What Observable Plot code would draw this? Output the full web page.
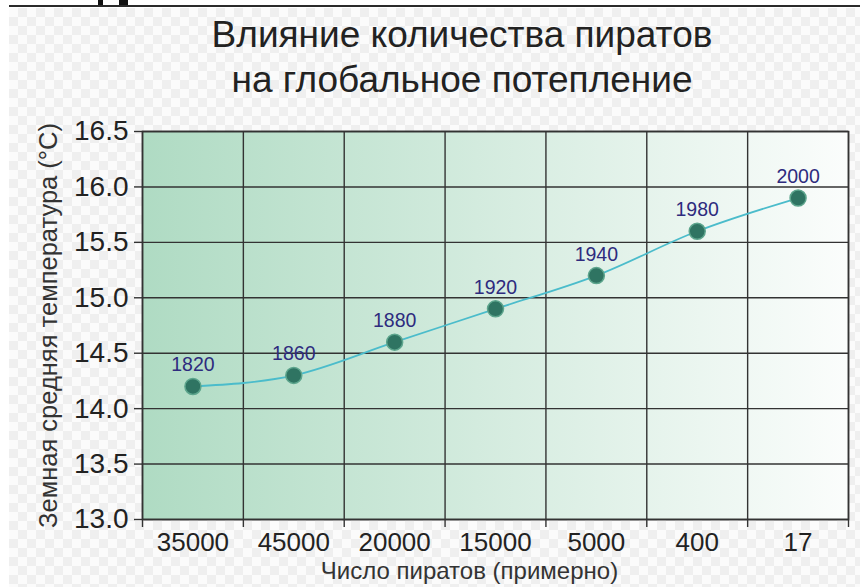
<!DOCTYPE html>
<html>
<head>
<meta charset="utf-8">
<script src="https://cdn.jsdelivr.net/npm/d3@7"></script>
<script src="https://cdn.jsdelivr.net/npm/@observablehq/plot@0.6"></script>
<style>
  html, body { margin: 0; padding: 0; background: #fff; }
  #wrap { position: relative; width: 860px; height: 587px; overflow: hidden; }
  #checker {
    position: absolute; left: 9px; top: 8px; right: 0; bottom: 0;
    background: conic-gradient(#efefef 25%, #fbfbfb 0 50%, #efefef 0 75%, #fbfbfb 0) 0 0 / 18px 18px;
  }
  #rule { position: absolute; left: 9px; right: 0; top: 5px; height: 2px; background: #2a2a2a; }
  .frag { position: absolute; top: 0; height: 5px; background: #111; }
  #title {
    position: absolute; left: 62px; width: 800px; top: 12px;
    text-align: center; font: 37px "Liberation Sans", Arial, sans-serif;
    line-height: 45px; color: #222;
  }
  #chart { position: absolute; left: 0; top: 0; }
</style>
</head>
<body>
<div id="wrap">
  <div id="checker"></div>
  <div id="rule"></div>
  <div class="frag" style="left:98px;width:5px"></div>
  <div class="frag" style="left:119px;width:9px"></div>
  <div id="title">Влияние количества пиратов<br>на глобальное потепление</div>
  <div id="chart"></div>
</div>
<script>
// Approximate number of pirates for each period (category labels, left to right)
const pirates = ["35000", "45000", "20000", "15000", "5000", "400", "17"];
// Year shown above each point
const years = [1820, 1860, 1880, 1920, 1940, 1980, 2000];
// Global mean temperature, °C
const temps = [14.2, 14.3, 14.6, 14.9, 15.2, 15.6, 15.9];
// Temperature axis ticks
const tempTicks = [13.0, 13.5, 14.0, 14.5, 15.0, 15.5, 16.0, 16.5];

const yLabel = "Земная средняя температура (°C)";
const xLabel = "Число пиратов (примерно)";

// Each category occupies one unit column; points sit in the middle of it
const data = pirates.map((p, i) => ({pos: i + 0.5, pirates: p, year: years[i], temp: temps[i]}));
const edges = d3.range(pirates.length + 1);
const centers = data.map(d => d.pos);

const font = "'Liberation Sans', Arial, sans-serif";
const gridColor = "#333";

const svg = Plot.plot({
  width: 860,
  height: 587,
  marginLeft: 142,
  marginRight: 12,
  marginTop: 131,
  marginBottom: 68,
  style: {background: "transparent", fontFamily: font, color: "#222"},
  x: {domain: [0, pirates.length]},
  y: {domain: [13, 16.5]},
  marks: [
    Plot.frame({fill: "url(#bgGrad)"}),
    Plot.gridY(tempTicks, {stroke: gridColor, strokeOpacity: 1, strokeWidth: 1.4}),
    Plot.gridX(edges, {stroke: gridColor, strokeOpacity: 1, strokeWidth: 1.4}),
    Plot.axisY(tempTicks, {
      tickSize: 8, tickPadding: 6, strokeWidth: 1.4, stroke: gridColor,
      tickFormat: d => d.toFixed(1), fontSize: 28, fill: "#222", label: null
    }),
    Plot.axisX(edges, {tickSize: 8, strokeWidth: 1.4, stroke: gridColor, tickFormat: () => "", label: null}),
    Plot.axisX(centers, {
      tickSize: 0, tickPadding: 13, fontSize: 26, fill: "#222", label: null,
      tickFormat: c => pirates[Math.floor(c)]
    }),
    Plot.line(data, {x: "pos", y: "temp", stroke: "#4bbccb", strokeWidth: 1.8, curve: "monotone-x"}),
    Plot.dot(data, {x: "pos", y: "temp", r: 8, fill: "#2f7462", stroke: "#5da58d", strokeWidth: 1.5}),
    Plot.text(data, {
      x: "pos", y: "temp", text: d => String(d.year), dy: -15, lineAnchor: "bottom",
      fontSize: 19.5, fill: "#2e2b7e"
    }),
    Plot.frame({stroke: gridColor, strokeWidth: 1.6}),
    Plot.text([yLabel], {
      frameAnchor: "left", textAnchor: "middle", dx: -94, rotate: -90,
      fontSize: 25.5, fill: "#333", text: d => d
    }),
    Plot.text([xLabel], {
      frameAnchor: "bottom", textAnchor: "middle", lineAnchor: "bottom", dx: -26, dy: 59,
      fontSize: 24, fill: "#333", text: d => d
    })
  ]
});

// Horizontal green-to-white wash behind the plot area
const defs = d3.select(svg).insert("defs", ":first-child");
const grad = defs.append("linearGradient").attr("id", "bgGrad").attr("x1", 0).attr("x2", 1).attr("y1", 0).attr("y2", 0);
grad.append("stop").attr("offset", "0%").attr("stop-color", "#afdbc3");
grad.append("stop").attr("offset", "100%").attr("stop-color", "#fbfdfc");

document.getElementById("chart").appendChild(svg);
</script>
</body>
</html>
